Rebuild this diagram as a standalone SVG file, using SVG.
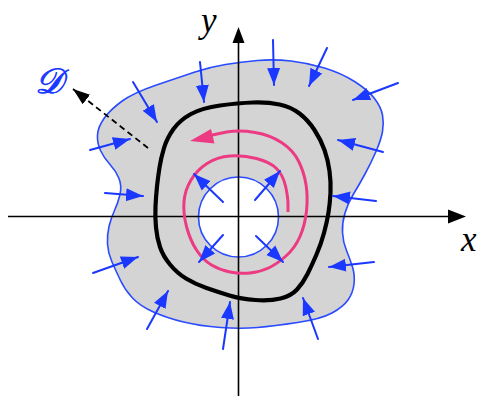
<svg xmlns="http://www.w3.org/2000/svg" width="482" height="396" viewBox="0 0 482 396">
<style>
.blue{stroke:#1a38ff;stroke-width:2;fill:none;stroke-linecap:round}
.ax{stroke:#000;stroke-width:1.6;fill:none}
.lbl{font-family:"Liberation Serif","DejaVu Serif",serif;font-style:italic;font-size:35px}
</style>
<defs>
<marker id="bh" markerUnits="userSpaceOnUse" markerWidth="20" markerHeight="16" viewBox="0 0 20 16" refX="17" refY="8" orient="auto">
<path d="M0,1.5 L17,8 L0,14.5 Z" fill="#1a38ff"/>
</marker>
<marker id="kh" markerUnits="userSpaceOnUse" markerWidth="20" markerHeight="16" viewBox="0 0 20 16" refX="17" refY="8" orient="auto">
<path d="M0,2 L17,8 L0,14 Z" fill="#000"/>
</marker>
</defs>
<g id="region">
<path d="M257.5,60.5 Q274,59 291,61 Q308,63 324.5,68 Q341,73 354.5,81.5 Q368,90 374.5,98.5 Q381,107 382.5,115 Q384,123 382.5,131.5 Q381,140 376,151.5 Q371,163 365,174 Q359,185 353.5,194 Q348,203 345,213 Q342,223 342.5,232.5 Q343,242 346.5,250.5 Q350,259 352.5,267 Q355,275 354,284 Q353,293 348,300 Q343,307 332,313 Q321,319 297.5,322.5 Q274,326 257.5,327.5 Q241,329 220.5,327.5 Q200,326 183.5,322 Q167,318 153.5,312 Q140,306 132.5,298 Q125,290 120.5,280.5 Q116,271 112,262 Q108,253 107.5,244 Q107,235 109,226.5 Q111,218 114.5,210.5 Q118,203 120,194.5 Q122,186 119,178.5 Q116,171 110,164.5 Q104,158 100.5,150.5 Q97,143 97.5,135 Q98,127 104,118.5 Q110,110 121.5,101.5 Q133,93 156.5,85 Q180,77 195,72 Q210,67 225.5,64.5 Q241,62 257.5,60.5 Z" fill="#d4d4d4" stroke="#2a4bff" stroke-width="1.6"/>
</g>
<g id="hole">
<circle cx="238.5" cy="217" r="40" fill="#fff" stroke="#2a4bff" stroke-width="1.6"/>
</g>
<g id="axes">
<line class="ax" x1="8" y1="216.5" x2="450" y2="216.5"/>
<polygon points="466,216.5 448,209.5 448,223.5" fill="#000"/>
<line class="ax" x1="238.5" y1="396" x2="238.5" y2="41"/>
<polygon points="238.5,27 232.5,43 244.5,43" fill="#000"/>
</g>
<g id="curve">
<path d="M253,102.5 Q268,102 279.5,104.5 Q291,107 299.5,113.5 Q308,120 314.5,130 Q321,140 324.5,150 Q328,160 329.5,171 Q331,182 330.5,192.5 Q330,203 328.5,212.5 Q327,222 324,233 Q321,244 316.5,254.5 Q312,265 307.5,274 Q303,283 297,289.5 Q291,296 280.5,298.5 Q270,301 255.5,300 Q241,299 229.5,295.5 Q218,292 206.5,288 Q195,284 186,278.5 Q177,273 170,264.5 Q163,256 160,247 Q157,238 156,227.5 Q155,217 155.5,206.5 Q156,196 157,186.5 Q158,177 159.5,167.5 Q161,158 164,148 Q167,138 173.5,129 Q180,120 191,114 Q202,108 220,105.5 Q238,103 253,102.5 Z" fill="none" stroke="#000" stroke-width="4.2"/>
</g>
<g id="spiral">
<path d="M288,212 L288,204.5 Q288,197 285.5,186 Q283,175 276.5,168.5 Q270,162 256.5,158.5 Q243,155 230,156 Q217,157 207,163.5 Q197,170 191,180 Q185,190 184,201.5 Q183,213 186.5,226.5 Q190,240 196.5,250 Q203,260 211.5,265 Q220,270 230,272 Q240,274 250,273 Q260,272 268.5,268 Q277,264 286,256 Q295,248 300,236.5 Q305,225 306.5,211 Q308,197 306,184.5 Q304,172 298.5,161 Q293,150 281.5,142.5 Q270,135 255,132.5 Q240,130 226.5,132 L210,135.5" fill="none" stroke="#ec3a83" stroke-width="3"/>
<polygon points="190,141 214.5,143.5 211,129" fill="#ec3a83"/>
</g>
<g id="connectors">
<line class="blue" marker-end="url(#bh)" x1="133" y1="82" x2="157" y2="122"/>
<line class="blue" marker-end="url(#bh)" x1="200" y1="62" x2="204" y2="102"/>
<line class="blue" marker-end="url(#bh)" x1="90" y1="150" x2="130" y2="139"/>
<line class="blue" marker-end="url(#bh)" x1="105" y1="193" x2="143" y2="196"/>
<line class="blue" marker-end="url(#bh)" x1="273" y1="40" x2="274" y2="85"/>
<line class="blue" marker-end="url(#bh)" x1="327" y1="48" x2="309" y2="86"/>
<line class="blue" marker-end="url(#bh)" x1="398" y1="83" x2="353" y2="100"/>
<line class="blue" marker-end="url(#bh)" x1="383" y1="152" x2="338" y2="140"/>
<line class="blue" marker-end="url(#bh)" x1="376" y1="201" x2="333" y2="196"/>
<line class="blue" marker-end="url(#bh)" x1="374" y1="262" x2="329" y2="267"/>
<line class="blue" marker-end="url(#bh)" x1="318" y1="339" x2="303" y2="298"/>
<line class="blue" marker-end="url(#bh)" x1="223" y1="349" x2="230" y2="302"/>
<line class="blue" marker-end="url(#bh)" x1="147" y1="329" x2="168" y2="291"/>
<line class="blue" marker-end="url(#bh)" x1="93" y1="273" x2="138" y2="257"/>
<line class="blue" marker-end="url(#bh)" x1="223" y1="202" x2="194" y2="174"/>
<line class="blue" marker-end="url(#bh)" x1="255" y1="200" x2="280" y2="171"/>
<line class="blue" marker-end="url(#bh)" x1="223" y1="235" x2="199" y2="262"/>
<line class="blue" marker-end="url(#bh)" x1="256" y1="236" x2="283" y2="262"/>
<line x1="148" y1="148" x2="73" y2="89" stroke="#000" stroke-width="1.8" stroke-dasharray="6,4" marker-end="url(#kh)"/>
</g>
<g id="labels">
<text class="lbl" x="201" y="32">y</text>
<text class="lbl" x="461" y="251">x</text>
<text class="lbl" x="35" y="93" fill="#1a38ff" stroke="#1a38ff" stroke-width="0.9">𝒟</text>
</g>
</svg>
